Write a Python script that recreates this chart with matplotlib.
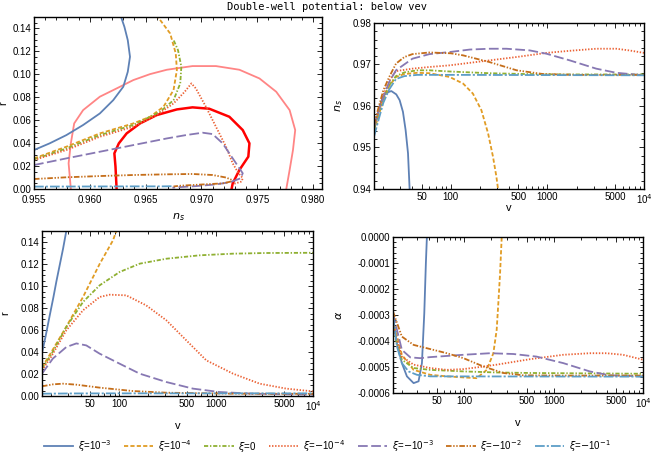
import matplotlib
matplotlib.use("Agg")
import matplotlib.pyplot as plt
import matplotlib.ticker as mticker

# ======================================================
# DATA
# ======================================================
LABELS = [r"$\xi$=10$^{-3}$", r"$\xi$=10$^{-4}$", r"$\xi$=0", r"$\xi$=$-$10$^{-4}$",
          r"$\xi$=$-$10$^{-3}$", r"$\xi$=$-$10$^{-2}$", r"$\xi$=$-$10$^{-1}$"]

# ── r vs n_s (top-left) ──────────────────────────────
TL_NS = [
    [0.955, 0.9564, 0.9579, 0.9594, 0.9609, 0.9621, 0.9630, 0.9634, 0.9636, 0.9634, 0.9631, 0.9628],
    [0.955, 0.9579, 0.9609, 0.9639, 0.9654, 0.9666, 0.9675, 0.9678, 0.9677, 0.9672, 0.9661],
    [0.955, 0.9579, 0.9609, 0.9639, 0.9663, 0.9675, 0.9681, 0.9682, 0.9679, 0.9675],
    [0.955, 0.9579, 0.9609, 0.9639, 0.9660, 0.9675, 0.9685, 0.9691, 0.9695, 0.9704, 0.9713,
     0.9722, 0.9728, 0.9733, 0.9737, 0.9736, 0.9728],
    [0.955, 0.9579, 0.9609, 0.9639, 0.9669, 0.9686, 0.9701, 0.9710, 0.9719, 0.9727, 0.9733,
     0.9737, 0.9735, 0.9726, 0.9713, 0.9695, 0.9683, 0.9674],
    [0.955, 0.9579, 0.9609, 0.9639, 0.9669, 0.9692, 0.9710, 0.9722, 0.9727, 0.9726, 0.9719,
     0.9698, 0.9680, 0.9675],
    [0.955, 0.960, 0.964, 0.9665, 0.9672, 0.9675],
]
TL_R = [
    [0.034, 0.0398, 0.047, 0.0558, 0.0659, 0.0775, 0.0892, 0.1022, 0.1153, 0.1298, 0.1414, 0.150],
    [0.0267, 0.0369, 0.0485, 0.0572, 0.063, 0.0717, 0.0863, 0.1037, 0.1182, 0.1356, 0.150],
    [0.0258, 0.0354, 0.047, 0.0558, 0.0674, 0.0775, 0.092, 0.1066, 0.1211, 0.1300],
    [0.0253, 0.034, 0.0456, 0.0543, 0.0645, 0.0746, 0.0848, 0.0921, 0.0877, 0.0717, 0.0543,
     0.0369, 0.0224, 0.0140, 0.0095, 0.0065, 0.0042],
    [0.0209, 0.0267, 0.0325, 0.0383, 0.0441, 0.047, 0.0491, 0.0479, 0.0398, 0.0282, 0.0195,
     0.0137, 0.0093, 0.0060, 0.0040, 0.0025, 0.0018, 0.0012],
    [0.0087, 0.0102, 0.0113, 0.0122, 0.0128, 0.0131, 0.0122, 0.0100, 0.0080, 0.0064, 0.0049,
     0.0038, 0.0028, 0.0022],
    [0.0021, 0.0022, 0.0023, 0.0023, 0.0024, 0.0024],
]

# Planck contours
C2_NS = [0.9583, 0.9581, 0.9583, 0.9586, 0.9594, 0.9609, 0.9624, 0.9639, 0.9654, 0.9669, 0.9692,
         0.9713, 0.9734, 0.9752, 0.9767, 0.9779, 0.9784, 0.9782, 0.9779, 0.9776]
C2_R = [0.0, 0.0224, 0.0398, 0.0572, 0.0688, 0.0805, 0.0877, 0.095, 0.1002, 0.1040, 0.1072,
        0.1072, 0.1040, 0.0964, 0.0848, 0.0688, 0.0514, 0.034, 0.0166, 0.0]
C1_NS = [0.9624, 0.9623, 0.9622, 0.9626, 0.9633, 0.9645, 0.9660, 0.9678, 0.9692, 0.9707, 0.9725,
         0.9737, 0.9743, 0.9742, 0.9734, 0.9728, 0.9727]
C1_R = [0.0, 0.0195, 0.0311, 0.0398, 0.0485, 0.0572, 0.0645, 0.0694, 0.0712, 0.07, 0.063,
        0.0514, 0.0398, 0.0282, 0.0166, 0.0049, 0.0]

# ── n_s vs v (top-right) ─────────────────────────────
NS_V = [
    [16, 16.9, 18.3, 19.8, 21.5, 24.2, 27.2, 29.5, 31.9, 34.0, 36.0, 37.4],
    [16, 18, 20, 23, 27, 33, 45, 60, 97, 134, 169, 207, 243, 273, 296, 308],
    [16, 18, 20, 23, 27, 33, 45, 60, 100, 250, 600, 1500, 10000],
    [16, 18, 20, 23, 27, 40, 60, 97, 157, 252, 477, 975, 1700, 3200, 5170, 7000, 10000],
    [16, 18, 20, 23, 27, 40, 60, 97, 157, 252, 376, 655, 975, 1700, 3200, 5170, 10000],
    [16, 18, 20, 23, 27, 33, 40, 60, 100, 134, 250, 480, 900, 2000, 10000],
    [16, 18, 20, 23, 27, 33, 45, 100, 10000],
]
NS = [
    [0.9534, 0.9566, 0.9600, 0.9622, 0.9632, 0.9636, 0.9628, 0.9614, 0.9586, 0.9542, 0.9486, 0.9400],
    [0.954, 0.958, 0.9614, 0.9648, 0.967, 0.9677, 0.968, 0.9679, 0.967, 0.9654, 0.963, 0.959,
     0.9534, 0.9478, 0.943, 0.940],
    [0.9545, 0.9585, 0.9618, 0.965, 0.9672, 0.9681, 0.9686, 0.9686, 0.9683, 0.9679, 0.9677,
     0.9676, 0.9676],
    [0.955, 0.959, 0.9626, 0.966, 0.9684, 0.969, 0.9694, 0.9698, 0.9704, 0.971, 0.9718, 0.9728,
     0.9733, 0.9738, 0.9738, 0.9734, 0.9728],
    [0.955, 0.9592, 0.9622, 0.9658, 0.9686, 0.9714, 0.9725, 0.973, 0.9736, 0.9738, 0.9738,
     0.9734, 0.9726, 0.971, 0.969, 0.968, 0.9674],
    [0.9555, 0.960, 0.9638, 0.967, 0.9702, 0.9718, 0.9725, 0.9729, 0.9727, 0.9722, 0.9706,
     0.9686, 0.9677, 0.9675, 0.9675],
    [0.9526, 0.957, 0.9608, 0.964, 0.9665, 0.9672, 0.9675, 0.9675, 0.9674],
]

# ── r vs v (bottom-left) ─────────────────────────────
R_V = [
    [16, 17.5, 19.2, 21, 22.5, 24.5, 26.4, 28.5],
    [16, 20, 28.5, 42.4, 62.9, 86.4, 93.5],
    [16, 20, 28.5, 42.4, 62.9, 101, 163, 307, 677, 1497, 3300, 10000],
    [16, 20, 28.5, 42.4, 62.9, 80, 118.5, 190, 307, 493, 793, 1497, 2818, 5300, 10000],
    [16, 20.7, 28.5, 36.2, 45.8, 62.9, 101, 163, 307, 578, 1089, 2406, 10000],
    [16, 20.8, 26.3, 36.2, 62.9, 139, 307, 1497, 10000],
    [16, 30, 100, 1000, 10000],
]
R = [
    [0.039, 0.055, 0.073, 0.09, 0.104, 0.12, 0.134, 0.15],
    [0.026, 0.040, 0.063, 0.09, 0.12, 0.1415, 0.15],
    [0.0248, 0.038, 0.0627, 0.0855, 0.1006, 0.1127, 0.1203, 0.1248, 0.1279, 0.1294, 0.1300, 0.1302],
    [0.0233, 0.036, 0.0597, 0.0779, 0.09, 0.0921, 0.0915, 0.0824, 0.0688, 0.0506, 0.0324,
     0.0203, 0.0112, 0.0067, 0.0042],
    [0.0203, 0.034, 0.0445, 0.0478, 0.046, 0.0385, 0.0294, 0.0203, 0.0127, 0.0067, 0.0036,
     0.0021, 0.0012],
    [0.0088, 0.0106, 0.0112, 0.0103, 0.0076, 0.0045, 0.003, 0.0021, 0.002],
    [0.0021, 0.0023, 0.0024, 0.0024, 0.0024],
]

# ── alpha vs v (bottom-right) ────────────────────────
A_V = [
    [16, 17.7, 20.1, 22.9, 27.2, 30.9, 33.7, 35.8, 37.3, 38.3],
    [16, 20.1, 27.2, 41.7, 64, 98.2, 138, 179, 212, 231, 241, 252, 263],
    [16, 20.1, 27.2, 41.7, 98.2, 231, 544, 10000],
    [16, 20.1, 27.2, 41.7, 64, 98.2, 150.7, 231, 544, 1282, 2541, 3899, 5981, 10000],
    [16, 20.1, 25, 32.3, 41.7, 98.2, 195, 355, 646, 1282, 2541, 4248, 10000],
    [16, 20.1, 27.2, 41.7, 64, 98.2, 164, 274, 459, 1282, 10000],
    [16, 17.7, 20.1, 23.9, 29.6, 41.7, 10000],
]
ALPHA = [
    [-0.000306, -0.000409, -0.000485, -0.000536, -0.000562, -0.000555, -0.000485, -0.000294,
     -0.000102, 0.0],
    [-0.000319, -0.000453, -0.000511, -0.00053, -0.000536, -0.00054, -0.000543, -0.000511,
     -0.000447, -0.000357, -0.000255, -0.00014, 0.0],
    [-0.000357, -0.000472, -0.000504, -0.000511, -0.000517, -0.000521, -0.000523, -0.000526],
    [-0.000345, -0.000460, -0.000491, -0.000504, -0.000511, -0.000508, -0.0005, -0.000491,
     -0.00047, -0.000453, -0.000447, -0.000447, -0.000453, -0.000472],
    [-0.000294, -0.000434, -0.000463, -0.000466, -0.000462, -0.000453, -0.000447, -0.00045,
     -0.00046, -0.000485, -0.000517, -0.000532, -0.000536],
    [-0.000287, -0.000383, -0.000415, -0.000431, -0.000447, -0.000466, -0.000498, -0.000523,
     -0.000532, -0.000533, -0.000533],
    [-0.0003, -0.000421, -0.000485, -0.000517, -0.00053, -0.000536, -0.000537],
]

# ======================================================
# STYLE
# ======================================================
plt.rcParams.update({
    "font.family":        ["Liberation Sans", "DejaVu Sans"],
    "font.size":          7,
    "mathtext.fontset":   "dejavusans",
    "lines.scale_dashes": False,
    "xtick.direction":    "in",
    "ytick.direction":    "in",
    "xtick.top":          True,
    "ytick.right":        True,
    "xtick.major.size":   3.5,
    "ytick.major.size":   3.5,
    "xtick.minor.size":   2.0,
    "ytick.minor.size":   2.0,
    "xtick.major.pad":    2,
    "ytick.major.pad":    2,
    "axes.linewidth":     1.0,
})

COLORS = ["#5E81B5", "#E19C24", "#8FB032", "#EB6235", "#8778B3", "#C56E1A", "#5D9EC7"]
STYLES = ["-", (0, (3, 1.6)), (0, (3, 1.3, 1, 1.3)), (0, (1, 1.2)),
          (0, (7, 2.5)), (0, (4, 1.2, 1, 1.2, 1, 1.2)), (0, (7, 1.5, 1.5, 1.5))]
LW = 1.3

V_TICKS = [50, 100, 500, 1000, 5000, 10000]
V_TICKLABELS = ["50", "100", "500", "1000", "5000", r"10$^4$"]
V_MIN, V_MAX = 16, 10000

fig = plt.figure(figsize=(6.54, 4.62), dpi=100)
W, H = 654, 462


def add_axes(l, t, r, b):
    return fig.add_axes([l / W, 1 - b / H, (r - l) / W, (b - t) / H])


ax_tl = add_axes(34, 17, 322, 189)
ax_tr = add_axes(374, 23, 644, 189)
ax_bl = add_axes(42, 231, 313, 396)
ax_br = add_axes(393, 237, 643, 393)

# ── top-left : r vs n_s ──────────────────────────────
ax_tl.plot(C2_NS, C2_R, color="#FF8585", lw=1.3)
ax_tl.plot(C1_NS, C1_R, color="#FF0000", lw=1.8)
for i in range(7):
    ax_tl.plot(TL_NS[i], TL_R[i], color=COLORS[i], linestyle=STYLES[i], lw=LW)
ax_tl.set_xlim(0.955, 0.9808)
ax_tl.set_ylim(0, 0.15)
ax_tl.xaxis.set_major_locator(mticker.MultipleLocator(0.005))
ax_tl.xaxis.set_minor_locator(mticker.MultipleLocator(0.001))
ax_tl.xaxis.set_major_formatter(mticker.FormatStrFormatter("%.3f"))
ax_tl.yaxis.set_major_locator(mticker.MultipleLocator(0.02))
ax_tl.yaxis.set_minor_locator(mticker.MultipleLocator(0.005))
ax_tl.yaxis.set_major_formatter(mticker.FormatStrFormatter("%.2f"))
ax_tl.tick_params(axis="x", pad=4)
ax_tl.set_xlabel(r"$n_s$", fontsize=8)
ax_tl.set_ylabel("r", fontsize=8)
ax_tl.xaxis.set_label_coords(0.5, -0.13)
ax_tl.yaxis.set_label_coords(-0.088, 0.5)

# ── top-right : n_s vs v ─────────────────────────────
for i in range(7):
    ax_tr.plot(NS_V[i], NS[i], color=COLORS[i], linestyle=STYLES[i], lw=LW)
ax_tr.set_ylim(0.94, 0.98)
ax_tr.yaxis.set_major_locator(mticker.MultipleLocator(0.01))
ax_tr.yaxis.set_minor_locator(mticker.MultipleLocator(0.002))
ax_tr.yaxis.set_major_formatter(mticker.FormatStrFormatter("%.2f"))
ax_tr.set_ylabel(r"$n_s$", fontsize=8)
ax_tr.yaxis.set_label_coords(-0.108, 0.5)

# ── bottom-left : r vs v ─────────────────────────────
for i in range(7):
    ax_bl.plot(R_V[i], R[i], color=COLORS[i], linestyle=STYLES[i], lw=LW)
ax_bl.set_ylim(0, 0.15)
ax_bl.yaxis.set_major_locator(mticker.MultipleLocator(0.02))
ax_bl.yaxis.set_minor_locator(mticker.MultipleLocator(0.005))
ax_bl.yaxis.set_major_formatter(mticker.FormatStrFormatter("%.2f"))
ax_bl.set_ylabel("r", fontsize=8)
ax_bl.yaxis.set_label_coords(-0.118, 0.5)

# ── bottom-right : alpha vs v ────────────────────────
for i in range(7):
    ax_br.plot(A_V[i], ALPHA[i], color=COLORS[i], linestyle=STYLES[i], lw=LW,
               label=LABELS[i])
ax_br.set_ylim(-0.0006, 0.0)
ax_br.yaxis.set_major_locator(mticker.MultipleLocator(0.0001))
ax_br.yaxis.set_minor_locator(mticker.MultipleLocator(0.00002))
ax_br.yaxis.set_major_formatter(
    mticker.FuncFormatter(lambda y, _: "0.0000" if abs(y) < 1e-9 else f"{y:.4f}"))
ax_br.set_ylabel(r"$\alpha$", fontsize=8)
ax_br.yaxis.set_label_coords(-0.196, 0.5)

# shared log-v axes
for ax, ly in [(ax_tr, -0.085), (ax_bl, -0.15), (ax_br, -0.16)]:
    ax.set_xscale("log")
    ax.set_xlim(V_MIN, V_MAX)
    ax.set_xticks(V_TICKS)
    ax.set_xticklabels(V_TICKLABELS)
    ax.xaxis.set_minor_locator(mticker.LogLocator(base=10, subs=range(2, 10)))
    ax.xaxis.set_minor_formatter(mticker.NullFormatter())
    ax.set_xlabel("v", fontsize=8)
    ax.xaxis.set_label_coords(0.5, ly)

for ax in (ax_tl, ax_tr, ax_bl, ax_br):
    ax.tick_params(which="both", width=0.6)

fig.text(0.5, 1 - 7 / H, "Double-well potential: below vev", ha="center", va="center",
         family="DejaVu Sans Mono", fontsize=7.5)

handles, labels = ax_br.get_legend_handles_labels()
fig.legend(handles, labels, loc="center", bbox_to_anchor=(0.5, 1 - 446 / H), ncol=7,
           frameon=False, fontsize=7, handlelength=3.0, handletextpad=0.5,
           columnspacing=1.3)

fig.savefig("out.png", dpi=100)
